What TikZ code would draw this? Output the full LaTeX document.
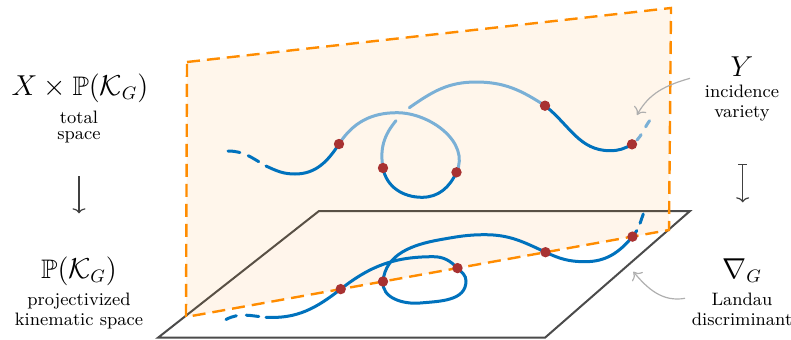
\documentclass[tikz,border=0pt]{standalone}
\usepackage{amssymb}
\usetikzlibrary{arrows.meta}
\definecolor{dkblue}{RGB}{0,114,189}
\definecolor{ltblue}{RGB}{122,176,214}
\definecolor{dotred}{RGB}{168,50,50}
\definecolor{plorange}{RGB}{255,140,0}
\definecolor{floorgray}{RGB}{75,75,75}
\definecolor{annogray}{RGB}{175,175,175}
\begin{document}
\begin{tikzpicture}[x=0.5pt,y=0.5pt,
  dk/.style={draw=dkblue,line width=1.5pt,line cap=round},
  lt/.style={draw=ltblue,line width=1.5pt,line cap=round},
  reddot/.style={circle,fill=dotred,inner sep=0pt,minimum size=5.2pt},
  planeedge/.style={draw=plorange,line width=1.2pt,dash pattern=on 6.5pt off 3.5pt},
  flooredge/.style={draw=floorgray,line width=1pt,line join=miter},
  anno/.style={draw=annogray,line width=0.6pt,-{To[length=3.5pt,width=7pt]}},
  mapar/.style={draw=black!75,line width=0.6pt},
  bigtxt/.style={font=\fontsize{13.4}{16}\selectfont,anchor=base,inner sep=0pt},
  smalltxt/.style={font=\fontsize{9}{10}\selectfont,align=center,anchor=base,inner sep=0pt},
]
\useasboundingbox (0,0) rectangle (791,339);

% floor
\coordinate (F1) at (319,128);
\coordinate (F2) at (690,128);
\coordinate (F3) at (545,1.3);
\coordinate (F4) at (158,1.3);
\fill[white] (F1)--(F2)--(F3)--(F4)--cycle;
\draw[flooredge] (F1)--(F2)--(F3)--(F4)--cycle;

% vertical plane
\coordinate (P1) at (187,277);
\coordinate (P2) at (671,331);
\coordinate (P3) at (669,109);
\coordinate (P4) at (186,22);
\fill[plorange,opacity=0.08] (P1)--(P2)--(P3)--(P4)--cycle;
\draw[planeedge] (P1)--(P2)--(P3)--(P4)--cycle;

% points
\coordinate (A1) at (339,195);
\coordinate (A2) at (383,171);
\coordinate (A3) at (456.5,166.7);
\coordinate (A4) at (545,233.3);
\coordinate (A5) at (632,194.7);
\coordinate (B1) at (340.7,49.9);
\coordinate (B2) at (383,57.5);
\coordinate (B3) at (457.5,70.9);
\coordinate (B4) at (545.5,86.8);
\coordinate (B5) at (632.5,102.4);

% upper curve (incidence variety)
\draw[dk,dash pattern=on 6pt off 4.5pt on 6pt off 10pt] (228,188) to[out=0,in=150] (266,173);
\draw[dk] (266,173) to[out=-25,in=180] (295,165) to[out=0,in=237] (A1);
\draw[lt] (A1) to[out=57,in=180] (397,226.3) to[out=0,in=65] (A3);
\draw[dk] (A3) to[out=-115,in=0] (422,141.7) to[out=180,in=-80] (A2);
\draw[lt] (A2) to[out=100,in=230] (396,218.3);
\draw[lt] (409.3,231.3) to[out=35,in=180] (476,257) to[out=0,in=147] (A4);
\draw[dk] (A4) to[out=-38,in=180] (610,188.3) to[out=0,in=210] (A5);
\draw[lt,dash pattern=on 0pt off 3.2pt on 3.5pt off 4.5pt on 3.7pt off 10pt] (A5) to[out=35,in=235] (649.5,218.3);

% lower curve (Landau discriminant)
\draw[dk,dash pattern=on 5.5pt off 5pt on 6.3pt off 10pt] (226,19.5) to[out=28,in=175] (266,21.7);
\draw[dk] (266,21.7) to[out=-3,in=218] (B1) to[out=38,in=180] (433.3,82.3)
  to[out=0,in=135] (B3) to[out=-45,in=90] (466,58) to[out=-90,in=5] (420,36)
  to[out=185,in=-95] (B2) to[out=85,in=190] (440,99.3) to[out=10,in=180] (485,104.3)
  to[out=0,in=155] (B4) to[out=-25,in=180] (585,77.3) to[out=0,in=230] (B5);
\draw[dk,dash pattern=on 3.7pt off 4pt on 5pt off 10pt] (B5) to[out=50,in=250] (643.3,125);

% dots
\foreach \p in {A1,A2,A3,A4,A5,B1,B2,B3,B4,B5}
  \node[reddot] (d\p) at (\p) {};

% left labels (multi-line nodes are placed by the baseline of their last line)
\node[bigtxt] (tot) at (80,244) {$X \times \mathbb{P}(\mathcal{K}_G)$};
\node[smalltxt] (totcap) at (79,199.5) {total\\[-2pt]space};
\node[bigtxt] (pk) at (79,61) {$\mathbb{P}(\mathcal{K}_G)$};
\node[smalltxt] (pkcap) at (79,14) {projectivized\\kinematic space};
\coordinate (la1) at (79,163);
\coordinate (la2) at (79,125.7);
\draw[mapar,-{To[length=2.5pt,width=6.5pt]}] (la1) -- (la2);

% right labels
\node[bigtxt] (yv) at (742,263) {$Y$};
\node[smalltxt] (ycap) at (742,222) {incidence\\variety};
\node[bigtxt] (nab) at (742,61) {$\nabla_G$};
\node[smalltxt] (ncap) at (742,14) {Landau\\discriminant};
\coordinate (ra1) at (742.7,175);
\coordinate (ra2) at (742.7,136.7);
\draw[mapar,{Bar[width=4.5pt]}-{To[length=2.5pt,width=6.5pt]}] (ra1) -- (ra2);

% annotation arrows
\coordinate (ya) at (690,260.7);
\coordinate (yt) at (637,224);
\draw[anno] (ya) to[out=196,in=61] (yt);
\coordinate (na) at (685,40.7);
\coordinate (nt) at (633.3,67.3);
\draw[anno] (na) to[out=190,in=-50] (nt);
\end{tikzpicture}
\end{document}
